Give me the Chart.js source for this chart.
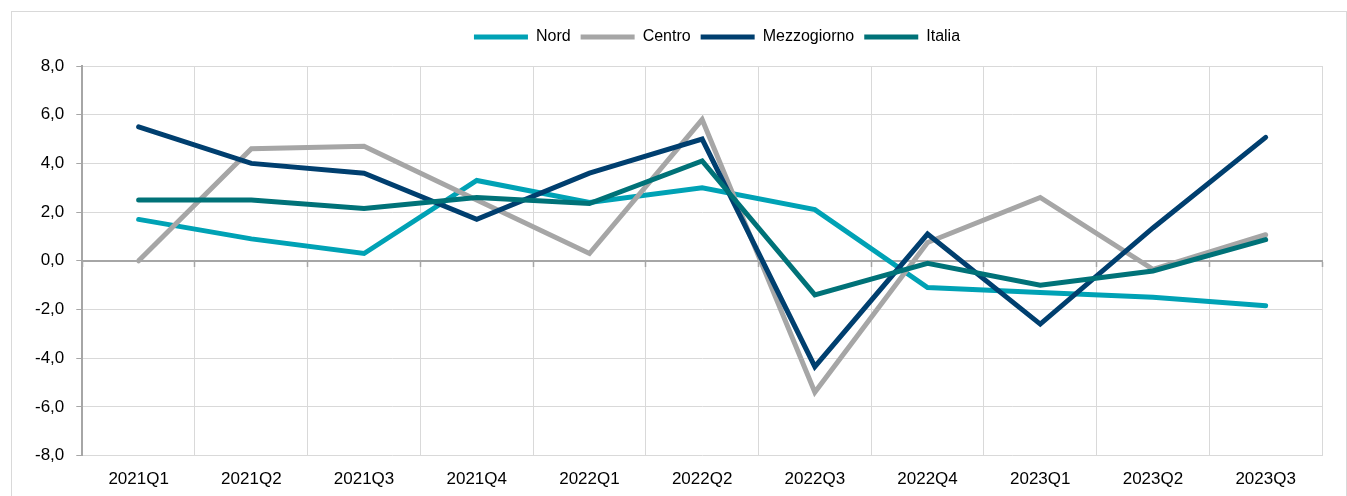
<!DOCTYPE html>
<html>
<head>
<meta charset="utf-8">
<script src="https://cdn.jsdelivr.net/npm/chart.js@4.4.1/dist/chart.umd.min.js"></script>
<style>
  html, body { margin: 0; padding: 0; background: #fff; }
  #box {
    position: absolute; left: 11px; top: 11px;
    width: 1334px; height: 500px;
    border: 1px solid #d9d9d9;
  }
  #wrap { position: absolute; left: 0; top: 0; width: 1334px; height: 496px; }
</style>
</head>
<body>
<div id="box"><div id="wrap"><canvas id="chart"></canvas></div></div>
<script>
// --- DATI ---
const quarters = ['2021Q1', '2021Q2', '2021Q3', '2021Q4', '2022Q1', '2022Q2', '2022Q3', '2022Q4', '2023Q1', '2023Q2', '2023Q3'];
const nord        = [1.7, 0.9, 0.3, 3.3, 2.4, 3.0, 2.1, -1.1, -1.3, -1.5, -1.85];
const centro      = [0.0, 4.6, 4.7, 2.5, 0.3, 5.8, -5.4, 0.75, 2.6, -0.35, 1.07];
const mezzogiorno = [5.5, 4.0, 3.6, 1.7, 3.6, 5.0, -4.35, 1.1, -2.6, 1.35, 5.07];
const italia      = [2.5, 2.5, 2.15, 2.6, 2.35, 4.1, -1.4, -0.1, -1.0, -0.42, 0.87];

const yTicks = [-8, -6, -4, -2, 0, 2, 4, 6, 8];

// Colori delle serie
const COLORS = {
  nord: '#00a2b5',
  centro: '#a6a6a6',
  mezzogiorno: '#003f6f',
  italia: '#007278'
};

const FONT = "'Liberation Sans', Arial, sans-serif";
const LEGEND_CENTER_X = 705; // centro della legenda (coord. canvas)
const LEGEND_EXTRA = 11;     // spazio in più sotto la legenda

function serie(label, data, color, order) {
  return {
    label,
    data,
    borderColor: color,
    backgroundColor: color,
    borderWidth: 5,
    borderCapStyle: 'round',
    tension: 0,
    pointRadius: 0,
    pointHoverRadius: 0,
    order // Excel disegna l'ultima serie sopra
  };
}

// sposta la legenda (centro e spazio sotto) come nell'originale
const legendShift = {
  id: 'legendShift',
  beforeInit(chart) {
    const lg = chart.legend;
    const origFit = lg.fit;
    lg.fit = function () {
      origFit.call(this);
      this.height += LEGEND_EXTRA;
    };
  },
  afterLayout(chart) {
    const lg = chart.legend;
    if (!lg) return;
    const dx = LEGEND_CENTER_X - (lg.left + lg.right) / 2;
    lg.left += dx;
    lg.right += dx;
  }
};

new Chart(document.getElementById('chart'), {
  type: 'line',
  data: {
    labels: quarters,
    datasets: [
      serie('Nord', nord, COLORS.nord, 4),
      serie('Centro', centro, COLORS.centro, 3),
      serie('Mezzogiorno', mezzogiorno, COLORS.mezzogiorno, 2),
      serie('Italia', italia, COLORS.italia, 1)
    ]
  },
  options: {
    responsive: true,
    maintainAspectRatio: false,
    animation: false,
    layout: { padding: { top: 7, left: 11, right: 24, bottom: 4 } },
    plugins: {
      legend: {
        position: 'top',
        labels: {
          usePointStyle: true,
          pointStyle: 'line',
          pointStyleWidth: 54,
          boxHeight: 5,
          padding: 10,
          color: '#000',
          font: { family: FONT, size: 16 },
          sort: (a, b) => a.datasetIndex - b.datasetIndex
        }
      },
      tooltip: { enabled: false }
    },
    scales: {
      x: {
        offset: true,
        grid: { offset: true, color: '#d9d9d9', lineWidth: 1, drawTicks: false },
        border: { display: false },
        ticks: { color: '#000', font: { family: FONT, size: 17 }, padding: 14, maxRotation: 0 }
      },
      x2: {
        type: 'category',
        labels: quarters,
        position: { y: 0 },
        offset: true,
        grid: { offset: true, drawOnChartArea: false, drawTicks: true, tickLength: 5, tickColor: '#a6a6a6', tickWidth: 1.5 },
        border: { color: '#a6a6a6', width: 2 },
        ticks: { display: false }
      },
      y: {
        min: -8,
        max: 8,
        afterBuildTicks: (axis) => { axis.ticks = yTicks.map(v => ({ value: v })); },
        grid: {
          color: (c) => c.tick && c.tick.value === 0 ? '#a6a6a6' : '#d9d9d9',
          lineWidth: 1,
          drawTicks: true,
          tickLength: 6,
          tickColor: '#a6a6a6'
        },
        border: { color: '#a6a6a6', width: 2 },
        ticks: {
          color: '#000',
          padding: 12,
          font: { family: FONT, size: 17 },
          callback: (v) => v.toFixed(1).replace('.', ',')
        }
      }
    }
  },
  plugins: [legendShift]
});
</script>
</body>
</html>
